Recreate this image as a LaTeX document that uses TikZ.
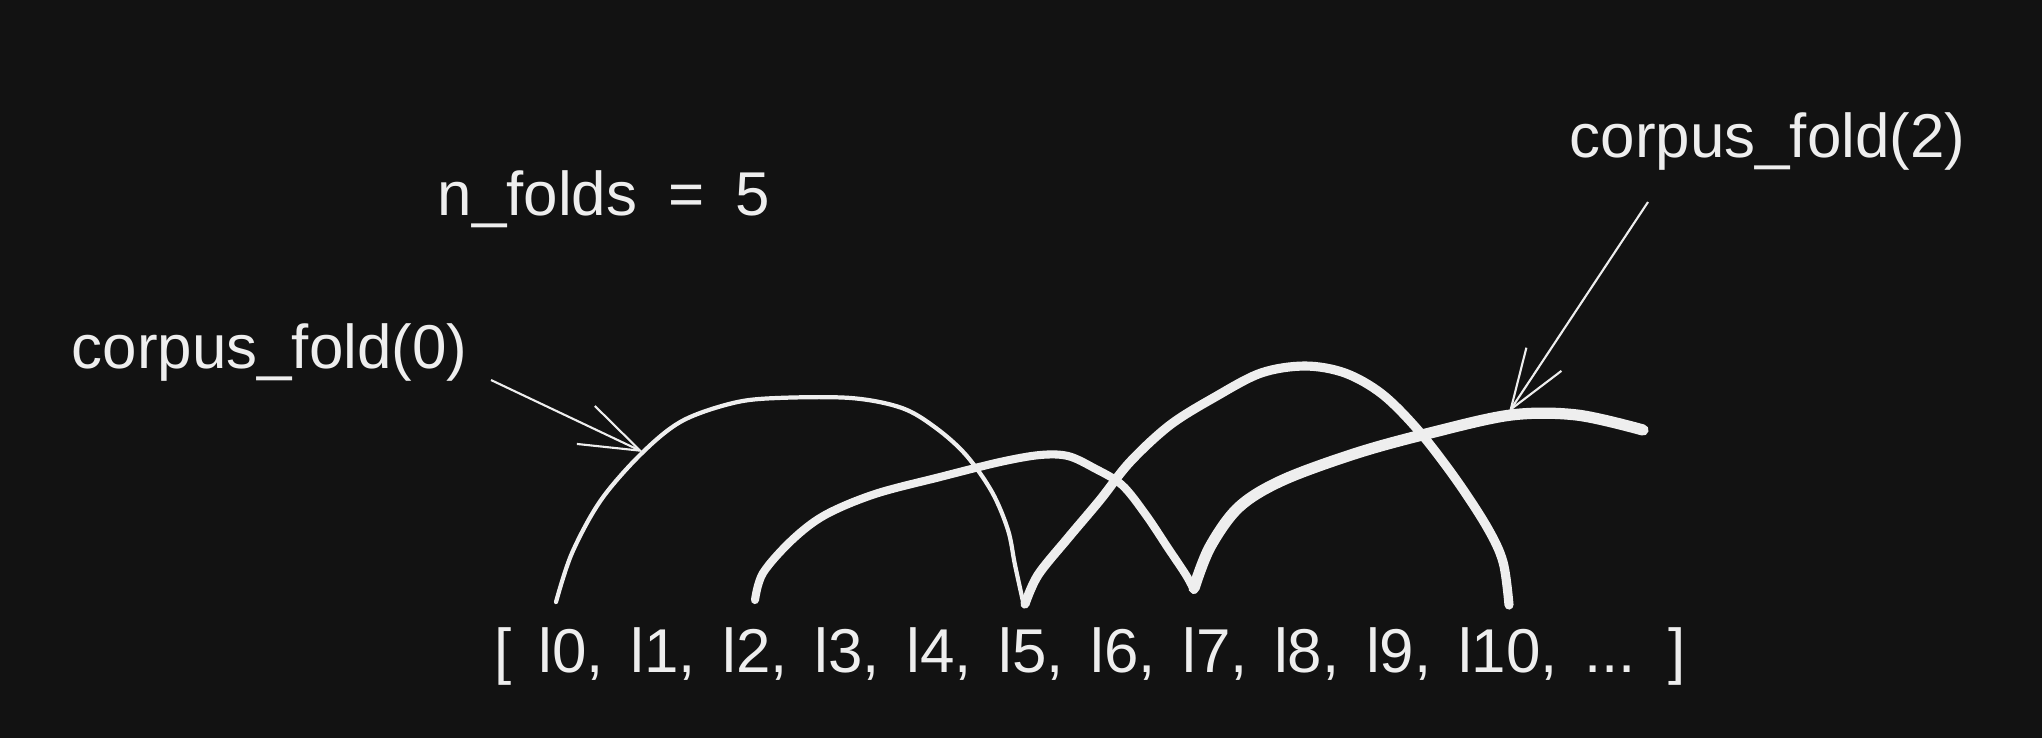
\documentclass[tikz,border=0pt]{standalone}
\usepackage{fontspec}
\setmainfont{Liberation Sans}
\usetikzlibrary{arrows.meta}
\definecolor{board}{HTML}{121212}
\definecolor{chalk}{HTML}{EEEEEE}
\tikzset{
  lbl/.style={text=chalk,inner sep=0pt,anchor=base west,font=\fontsize{17.6}{21}\selectfont},
  fold/.style={draw=chalk,line cap=round,line join=round},
  ptr/.style={draw=chalk,line width=0.6pt,-{Straight Barb[length=6mm,width=4.2mm]}}
}

\begin{document}
\begin{tikzpicture}[x=0.01cm,y=-0.01cm]
\fill[board] (0,0) rectangle (2042,738);
\useasboundingbox (0,0) rectangle (2042,738);

\node[lbl] (nfolds) at (437,215) {\spaceskip=0.5em n\_folds = 5};
\node[lbl] (fold0) at (71,368) {corpus\_fold(0)};
\node[lbl] (fold2) at (1569,157) {corpus\_fold(2)};
\node[lbl] (items) at (494,672) {\spaceskip=0.43em [ l0, l1, l2, l3, l4, l5, l6, l7, l8, l9, l10, ... ]};

% the folds drawn over the list
\draw[fold,line width=1.2pt] plot[smooth,tension=0.55] coordinates {(556,602) (572,553) (601,500) (642,453) (682,421) (733,403) (777,398) (851,398) (902,408) (936,428) (966,455) (992,492) (1008,530) (1015,565) (1024,606)};
\draw[fold,line width=2.3pt] plot[smooth,tension=0.55] coordinates {(755,600) (763,573) (792,540) (825,515) (875,494) (940,477) (1000,462) (1040,455) (1068,456) (1094,468) (1122,485) (1146,515) (1168,548) (1186,575) (1194,590)};
\draw[fold,line width=2.6pt] plot[smooth,tension=0.55] coordinates {(1025,604) (1038,575) (1068,538) (1100,500) (1130,462) (1170,425) (1215,397) (1261,373) (1305,366) (1345,373) (1382,394) (1418,430) (1455,478) (1487,527) (1503,562) (1509,605)};
\draw[fold,line width=3.2pt] plot[smooth,tension=0.55] coordinates {(1194,588) (1210,547) (1239,507) (1283,480) (1357,453) (1430,433) (1511,415) (1577,415) (1643,430)};

% pointers from the labels
\coordinate (p0) at (491,380);
\coordinate (t0) at (643,452);
\coordinate (p2) at (1648,202);
\coordinate (t2) at (1509,412);
\draw[ptr] (p0) -- (t0);
\draw[ptr] (p2) -- (t2);
\end{tikzpicture}
\end{document}
